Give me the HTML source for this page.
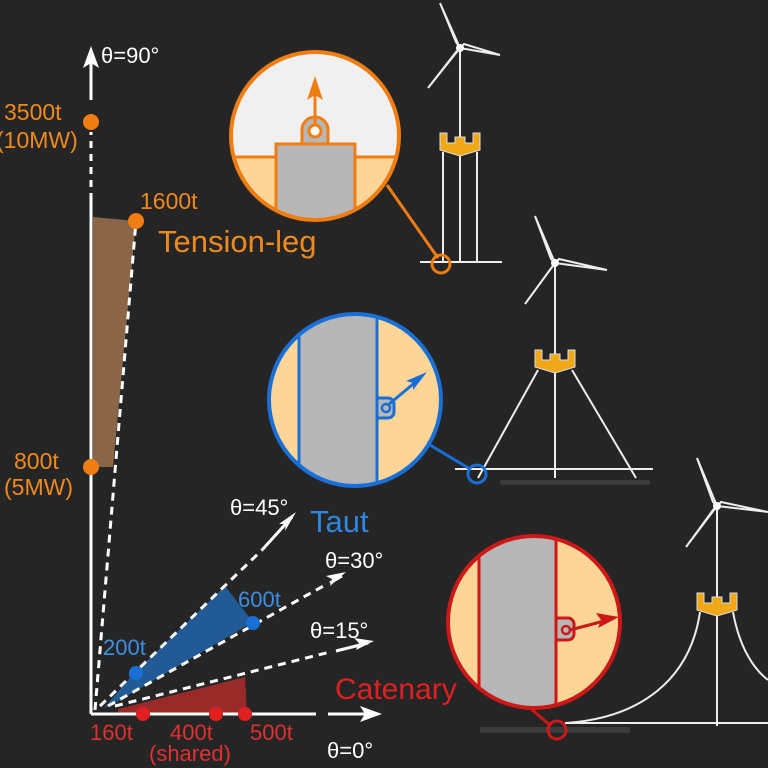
<!DOCTYPE html>
<html><head><style>
body{margin:0;background:#252525;}
svg{display:block;font-family:"Liberation Sans",sans-serif;}
</style></head><body>
<svg width="768" height="768" viewBox="0 0 768 768">
<rect width="768" height="768" fill="#252525"/>
<defs>
<path id="plat" d="M-20,0 h7 v10 h8 v-6 h10 v6 h8 v-10 h7 v17 l-20,6 l-20,-6z" fill="#f0a818" stroke="#ddd" stroke-width="1"/>
</defs>
<!-- seabed noise -->
<g fill="#3c3c3c">
<rect x="500" y="480" width="150" height="5" rx="2"/>
<rect x="480" y="727" width="150" height="6" rx="2"/>
</g>
<!-- chart regions -->
<polygon points="93,217 136,221 113,467 93,467" fill="#8a6548"/>
<polygon points="104,708 133,674 225,586 253,622 117,702" fill="#215a94"/>
<polygon points="118,709 245,677 247,714 118,714" fill="#992a2a"/>
<!-- axes -->
<line x1="91" y1="714" x2="91" y2="200" stroke="#fff" stroke-width="3"/>
<line x1="91" y1="200" x2="91" y2="132" stroke="#fff" stroke-width="3" stroke-dasharray="7,6"/>
<line x1="91" y1="100" x2="91" y2="58" stroke="#fff" stroke-width="3"/>
<path d="M91,46 L83,68 L91,63 L99,68z" fill="#fff"/>
<line x1="91" y1="714" x2="316" y2="714" stroke="#fff" stroke-width="3"/>
<line x1="328" y1="714" x2="370" y2="714" stroke="#fff" stroke-width="3"/>
<path d="M382,714 L360,706 L365,714 L360,722z" fill="#fff"/>
<!-- dashed rays -->
<g stroke="#fff" stroke-width="3" stroke-dasharray="8,6" fill="none">
<line x1="95" y1="710" x2="136" y2="221"/>
<line x1="100" y1="706" x2="262" y2="550"/>
<line x1="108" y1="706" x2="327" y2="584"/>
<line x1="115" y1="706" x2="330" y2="652"/>
</g>
<g stroke="#fff" stroke-width="3" fill="none">
<line x1="262" y1="550" x2="292" y2="517"/>
<line x1="330" y1="583" x2="342" y2="576"/>
<line x1="336" y1="651" x2="368" y2="643"/>
</g>
<path d="M296,512 L279,524 L286,524 L285,531z" fill="#fff"/>
<path d="M346,572 L326,576 L332,579 L330,586z" fill="#fff"/>
<path d="M374,641 L354,638 L359,643 L356,650z" fill="#fff"/>
<!-- dots -->
<g fill="#f07d12"><circle cx="91" cy="122" r="8"/><circle cx="91" cy="467" r="8"/><circle cx="136" cy="221" r="8"/></g>
<g fill="#1a6fd6"><circle cx="136" cy="673" r="7"/><circle cx="253" cy="623" r="7"/></g>
<g fill="#e02020"><circle cx="143" cy="714" r="7"/><circle cx="216" cy="714" r="7"/><circle cx="245" cy="714" r="7"/></g>
<!-- chart labels -->
<g fill="#fff" font-size="22">
<text x="101" y="63">θ=90°</text>
<text x="230" y="515">θ=45°</text>
<text x="325" y="568">θ=30°</text>
<text x="310" y="638">θ=15°</text>
<text x="327" y="758">θ=0°</text>
</g>
<g fill="#f08a1e" font-size="23">
<text x="4" y="120">3500t</text>
<text x="-4" y="148">(10MW)</text>
<text x="140" y="209">1600t</text>
<text x="14" y="469">800t</text>
<text x="4" y="495">(5MW)</text>
</g>
<text x="158" y="252" fill="#f08a1e" font-size="31">Tension-leg</text>
<text x="310" y="532" fill="#2f86e0" font-size="31">Taut</text>
<text x="335" y="699" fill="#e02020" font-size="30">Catenary</text>
<g fill="#3b8fe6" font-size="22"><text x="103" y="655">200t</text><text x="238" y="607">600t</text></g>
<g fill="#e03030" font-size="22"><text x="90" y="740">160t</text><text x="170" y="740">400t</text><text x="250" y="740">500t</text><text x="149" y="761">(shared)</text></g>

<!-- TLP turbine -->
<g stroke="#eee" stroke-width="2" fill="none">
<line x1="460" y1="48" x2="460" y2="140"/>
<line x1="443" y1="152" x2="443" y2="262"/><line x1="460" y1="152" x2="460" y2="262"/><line x1="477" y1="152" x2="477" y2="262"/>
<line x1="420" y1="262" x2="502" y2="262"/>
<path d="M460,48 L440,3 L456,42z"/><path d="M460,48 L500,55 L464,44z"/><path d="M460,48 L428,88 L456,52z"/>
</g>
<circle cx="460" cy="48" r="4" fill="#fff"/>
<use href="#plat" x="460" y="133"/>
<line x1="387" y1="185" x2="438" y2="258" stroke="#f07d12" stroke-width="3"/>
<circle cx="441" cy="264" r="9" fill="none" stroke="#f07d12" stroke-width="3"/>
<!-- TLP magnifier -->
<clipPath id="c1"><circle cx="315" cy="136" r="84"/></clipPath>
<g clip-path="url(#c1)">
<rect x="220" y="50" width="200" height="200" fill="#f0f0f0"/>
<rect x="220" y="157" width="200" height="100" fill="#fdd697"/>
<line x1="220" y1="157" x2="420" y2="157" stroke="#f07d12" stroke-width="3"/>
<rect x="276" y="144" width="79" height="90" fill="#b7b7b7" stroke="#f07d12" stroke-width="3"/>
</g>
<path d="M302,144 v-14 a13,13 0 0 1 26,0 v14z" fill="#b7b7b7" stroke="#f07d12" stroke-width="3"/>
<circle cx="315" cy="131" r="6" fill="#fff" stroke="#f07d12" stroke-width="3"/>
<line x1="315" y1="125" x2="315" y2="90" stroke="#f07d12" stroke-width="3"/>
<path d="M315,76 L307,100 L315,95 L323,100z" fill="#f07d12"/>
<circle cx="315" cy="136" r="84" fill="none" stroke="#f07d12" stroke-width="4"/>

<!-- Taut turbine -->
<g stroke="#eee" stroke-width="2" fill="none">
<line x1="555" y1="263" x2="555" y2="478"/>
<line x1="538" y1="370" x2="478" y2="478"/><line x1="572" y1="370" x2="636" y2="478"/>
<line x1="455" y1="469" x2="653" y2="469"/>
<path d="M555,263 L535,216 L551,259z"/><path d="M555,263 L607,270 L559,259z"/><path d="M555,263 L525,304 L552,267z"/>
</g>
<circle cx="555" cy="263" r="4" fill="#fff"/>
<use href="#plat" x="555" y="350"/>
<line x1="430" y1="445" x2="470" y2="469" stroke="#1a6fd6" stroke-width="3"/>
<circle cx="477" cy="474" r="9" fill="none" stroke="#1a6fd6" stroke-width="3"/>
<clipPath id="c2"><circle cx="355" cy="400" r="86"/></clipPath>
<g clip-path="url(#c2)">
<rect x="260" y="310" width="200" height="200" fill="#fdd697"/>
<rect x="299" y="310" width="78" height="200" fill="#b7b7b7"/>
<line x1="299" y1="310" x2="299" y2="500" stroke="#1a6fd6" stroke-width="3"/>
<line x1="377" y1="310" x2="377" y2="500" stroke="#1a6fd6" stroke-width="3"/>
</g>
<path d="M377,398 h11 a6,6 0 0 1 6,6 v8 a6,6 0 0 1 -6,6 h-11z" fill="#b7b7b7" stroke="#1a6fd6" stroke-width="3"/>
<circle cx="386" cy="408" r="4" fill="none" stroke="#1a6fd6" stroke-width="2.5"/>
<line x1="388" y1="405" x2="418" y2="380" stroke="#1a6fd6" stroke-width="3"/>
<path d="M427,372 L406,381 L413,383 L413,390z" fill="#1a6fd6"/>
<circle cx="355" cy="400" r="86" fill="none" stroke="#1a6fd6" stroke-width="4"/>

<!-- Catenary turbine -->
<g stroke="#eee" stroke-width="2" fill="none">
<line x1="717" y1="506" x2="717" y2="726"/>
<line x1="565" y1="723" x2="768" y2="723"/>
<path d="M700,612 C690,680 640,718 566,723"/>
<path d="M733,612 C740,650 755,670 768,680"/>
<path d="M717,506 L697,458 L713,502z"/><path d="M717,506 L768,512 L721,502z"/><path d="M717,506 L686,547 L713,510z"/>
</g>
<circle cx="717" cy="506" r="4" fill="#fff"/>
<use href="#plat" x="717" y="593"/>
<line x1="530" y1="708" x2="551" y2="726" stroke="#cc1818" stroke-width="3"/>
<circle cx="557" cy="730" r="9" fill="none" stroke="#cc1818" stroke-width="3"/>
<clipPath id="c3"><circle cx="534" cy="622" r="86"/></clipPath>
<g clip-path="url(#c3)">
<rect x="440" y="530" width="200" height="200" fill="#fdd697"/>
<rect x="479" y="530" width="77" height="200" fill="#b7b7b7"/>
<line x1="479" y1="530" x2="479" y2="720" stroke="#cc1818" stroke-width="3"/>
<line x1="556" y1="530" x2="556" y2="720" stroke="#cc1818" stroke-width="3"/>
</g>
<path d="M556,618 h12 a6,6 0 0 1 6,6 v10 a6,6 0 0 1 -6,6 h-12z" fill="#b7b7b7" stroke="#cc1818" stroke-width="3"/>
<circle cx="566" cy="630" r="4" fill="none" stroke="#cc1818" stroke-width="2.5"/>
<line x1="570" y1="630" x2="608" y2="620" stroke="#cc1818" stroke-width="3"/>
<path d="M619,617 L596,613 L601,620 L598,628z" fill="#cc1818"/>
<circle cx="534" cy="622" r="86" fill="none" stroke="#cc1818" stroke-width="4"/>
</svg>
</body></html>
